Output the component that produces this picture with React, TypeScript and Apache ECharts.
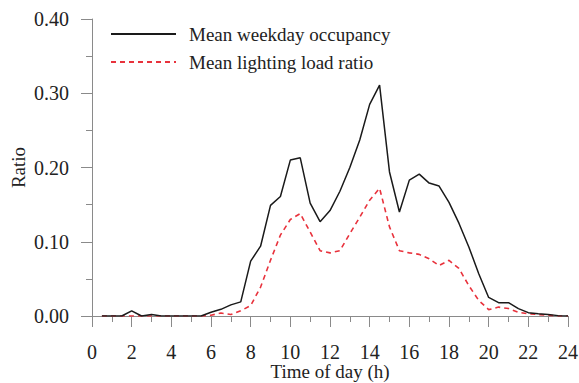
import React, { useEffect, useRef } from "react";
import * as echarts from "echarts";

const hours = [0.5,1,1.5,2,2.5,3,3.5,4,4.5,5,5.5,6,6.5,7,7.5,8,8.5,9,9.5,10,10.5,11,11.5,12,12.5,13,13.5,14,14.5,15,15.5,16,16.5,17,17.5,18,18.5,19,19.5,20,20.5,21,21.5,22,22.5,23,23.5,24];
const occupancy = [0,0,0,0.007,0,0.002,0,0,0,0,0,0.005,0.009,0.015,0.019,0.074,0.094,0.149,0.161,0.21,0.213,0.152,0.127,0.142,0.168,0.2,0.237,0.285,0.311,0.194,0.14,0.183,0.191,0.179,0.175,0.153,0.125,0.093,0.057,0.025,0.018,0.018,0.01,0.0045,0.003,0.002,0.0005,0];
const lighting = [0,0,0,0,0,0,0,0,0,0,0,0.001,0.004,0.002,0.007,0.014,0.039,0.075,0.109,0.13,0.138,0.113,0.088,0.085,0.088,0.111,0.133,0.156,0.172,0.12,0.088,0.085,0.083,0.077,0.068,0.075,0.064,0.041,0.021,0.0086,0.012,0.01,0.005,0.003,0.002,0.001,0,0];
const seriesNames = ["Mean weekday occupancy", "Mean lighting load ratio"];

const FONT = "'Liberation Serif', 'Times New Roman', serif";

export default function App() {
  const ref = useRef<HTMLDivElement>(null);
  useEffect(() => {
    if (!ref.current) return;
    const chart = echarts.init(ref.current, undefined, { renderer: "svg" });
    const axisColor = "#8a8a8a";
    chart.setOption({
      animation: false,
      backgroundColor: "#fff",
      textStyle: { fontFamily: FONT },
      grid: { left: 92, right: 11, top: 19, bottom: 67, containLabel: false, outerBoundsMode: "none" },
      legend: {
        left: 105,
        top: 19,
        orient: "vertical",
        itemWidth: 65,
        itemHeight: 14,
        itemGap: 8,
        itemStyle: { opacity: 0 },
        textStyle: { fontFamily: FONT, fontSize: 19, color: "#222", lineHeight: 20, padding: [0, 0, 0, 8] },
        data: seriesNames,
      },
      xAxis: {
        type: "value",
        min: 0,
        max: 24,
        interval: 2,
        name: "Time of day (h)",
        nameLocation: "middle",
        nameGap: 46,
        nameMoveOverlap: false,
        nameTextStyle: { fontFamily: FONT, fontSize: 19, color: "#222" },
        axisLine: { show: true, lineStyle: { color: axisColor, width: 1 } },
        axisTick: { show: true, inside: false, length: 11, lineStyle: { color: axisColor } },
        minorTick: { show: true, splitNumber: 2, length: 6, lineStyle: { color: axisColor } },
        axisLabel: { fontFamily: FONT, fontSize: 20, color: "#222", margin: 26 },
        splitLine: { show: false },
        minorSplitLine: { show: false },
      },
      yAxis: {
        type: "value",
        min: 0,
        max: 0.4,
        interval: 0.1,
        name: "Ratio",
        nameLocation: "middle",
        nameGap: 64,
        nameMoveOverlap: false,
        nameRotate: 90,
        nameTextStyle: { fontFamily: FONT, fontSize: 19, color: "#222" },
        axisLine: { show: true, lineStyle: { color: axisColor, width: 1 } },
        axisTick: { show: true, inside: false, length: 11, lineStyle: { color: axisColor } },
        minorTick: { show: true, splitNumber: 2, length: 6, lineStyle: { color: axisColor } },
        axisLabel: {
          fontFamily: FONT,
          fontSize: 20,
          color: "#222",
          margin: 23,
          formatter: (v: number) => v.toFixed(2),
        },
        splitLine: { show: false },
        minorSplitLine: { show: false },
      },
      series: [
        {
          name: seriesNames[0],
          type: "line",
          symbol: "none",
          data: hours.map((h, i) => [h, occupancy[i]]),
          lineStyle: { color: "#1a1a1a", width: 1.5, type: "solid" },
          itemStyle: { color: "#1a1a1a" },
          z: 3,
        },
        {
          name: seriesNames[1],
          type: "line",
          symbol: "none",
          data: hours.map((h, i) => [h, lighting[i]]),
          lineStyle: { color: "#e8323c", width: 1.6, type: [5, 4] },
          itemStyle: { color: "#e8323c" },
          z: 2,
        },
      ],
    });
    return () => chart.dispose();
  }, []);
  return <div ref={ref} style={{ width: 579, height: 383, position: "absolute", left: 0, top: 0 }} />;
}
